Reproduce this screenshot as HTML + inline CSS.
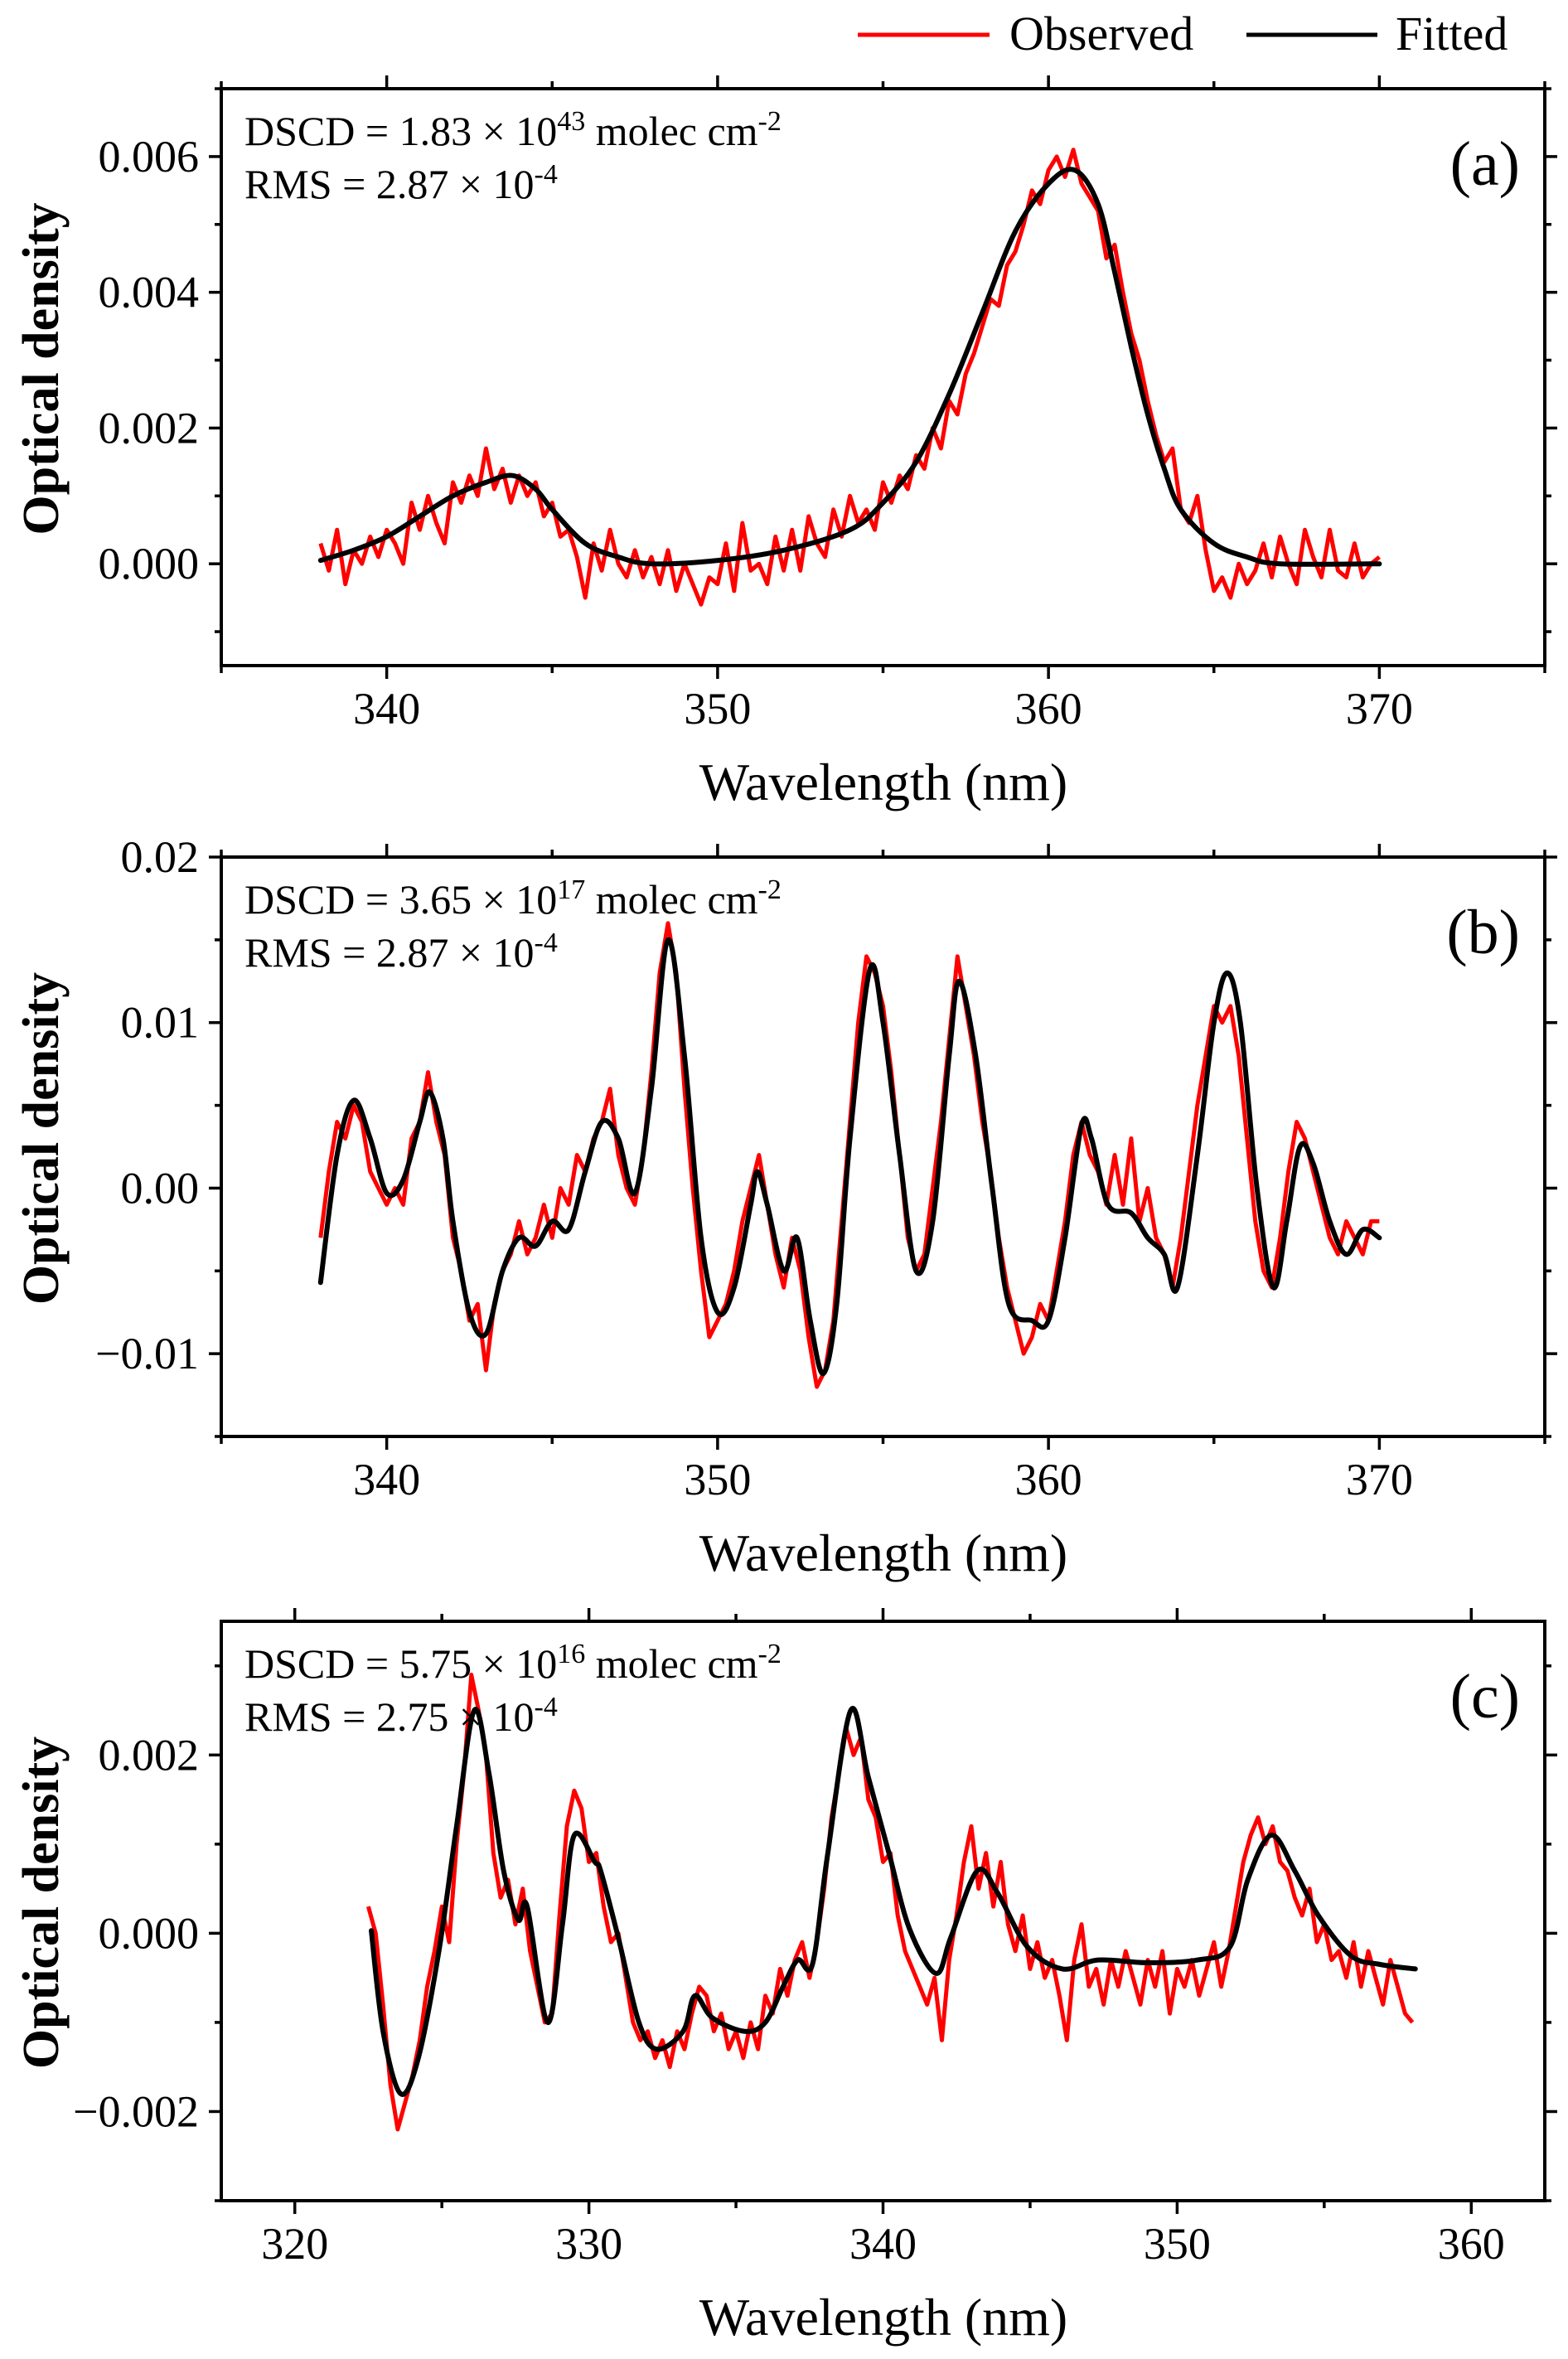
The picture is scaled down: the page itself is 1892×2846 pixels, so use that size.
<!DOCTYPE html>
<html><head><meta charset="utf-8">
<style>
html,body{margin:0;padding:0;background:#fff;}
svg{display:block;font-family:"Liberation Serif",serif;}
</style></head>
<body>
<svg id="fig" width="1892" height="2846" viewBox="0 0 1892 2846" xmlns="http://www.w3.org/2000/svg">
<rect width="1892" height="2846" fill="#fff"/>
<g>
  <line x1="1035" y1="42" x2="1194" y2="42" stroke="#ff0000" stroke-width="5"/>
  <text x="1218" y="60" font-size="58">Observed</text>
  <line x1="1504" y1="42" x2="1662" y2="42" stroke="#000" stroke-width="5"/>
  <text x="1684" y="60" font-size="58">Fitted</text>
</g>
</svg>
<script>
// ---------- Panel (a) data ----------
const aFitX = [338,339,340,341,342,343,343.8,344.5,345,346,347,348,350,352,354,355,356,357,358,359,360,360.8,361.5,362,362.5,363,363.5,364,365,366,367,370];
const aFitY = [0.00005,0.0002,0.0004,0.0007,0.0010,0.0012,0.0013,0.0011,0.0008,0.0003,0.0001,0.0,0.00005,0.0002,0.0005,0.0009,0.0015,0.0025,0.0037,0.0049,0.0056,0.0058,0.0053,0.0043,0.0032,0.0022,0.0014,0.0008,0.0003,0.0001,0.0,0.0];
const aObsStart = 338, aObsStep = 0.25, aObsUnit = 1e-4;
const aObs = [3,-1,5,-3,2,0,4,1,5,3,0,9,5,10,6,3,12,9,13,10,17,11,14,9,13,10,12,7,9,4,5,1,-5,3,-1,5,0,-2,2,-2,1,-3,2,-4,0,-3,-6,-2,-3,3,-4,6,-1,0,-3,4,-1,5,-1,7,3,1,8,4,10,6,8,5,12,9,13,11,16,14,20,17,24,22,28,31,35,39,38,44,46,50,55,53,58,60,57,61,56,54,52,45,47,40,34,30,24,19,15,17,8,6,10,2,-4,-2,-5,0,-3,-1,3,-2,4,0,-3,5,1,-2,5,-1,-2,3,-2,0,1];
const aYTicks = [0,0.002,0.004,0.006];
const aYLabels = ["0.000","0.002","0.004","0.006"];
const aXTicks = [340,350,360,370];
const aXLabels = ["340","350","360","370"];

// ---------- Panel (b) data ----------
const bFitX = [338,338.5,339,339.5,340,340.5,341,341.3,341.7,342,342.5,343,343.5,344,344.5,345,345.5,346,346.5,347,347.5,348,348.5,349,349.5,350,350.5,351,351.2,351.5,352,352.4,352.8,353.2,353.6,354,354.6,355,355.5,356,356.5,357,357.3,357.8,358.3,358.8,359.5,360,360.5,361,361.3,361.8,362.5,363,363.5,363.9,364.5,365,365.4,365.8,366.3,366.8,367.2,367.6,368,368.5,369,369.5,370];
const bFitY = [-0.0057,0.002,0.0053,0.003,-0.0003,0.0005,0.004,0.0058,0.003,-0.002,-0.0075,-0.0088,-0.005,-0.003,-0.0035,-0.002,-0.0025,0.001,0.004,0.003,-0.0003,0.006,0.015,0.008,-0.003,-0.0075,-0.006,-0.001,0.001,-0.001,-0.005,-0.003,-0.008,-0.0112,-0.007,0.003,0.0132,0.010,0.002,-0.005,-0.002,0.008,0.0125,0.008,0.0,-0.007,-0.008,-0.008,-0.003,0.0038,0.003,-0.001,-0.0015,-0.003,-0.004,-0.006,0.002,0.010,0.013,0.010,0.0,-0.006,-0.002,0.0025,0.0015,-0.002,-0.004,-0.0025,-0.003];
const bObsStart = 338, bObsStep = 0.25, bObsUnit = 1e-3;
const bObs = [-3,1,4,3,5,4,1,0,-1,0,-1,3,4,7,4,2,-3,-5,-8,-7,-11,-7,-5,-4,-2,-4,-3,-1,-3,0,-1,2,1,3,4,6,2,0,-1,2,7,13,16,13,6,0,-5,-9,-8,-7,-5,-2,0,2,-1,-4,-6,-3,-5,-9,-12,-11,-8,-2,4,10,14,13,11,7,2,-3,-5,-4,0,4,9,14,11,8,4,1,-3,-6,-8,-10,-9,-7,-8,-5,-2,2,4,2,1,-1,2,-1,3,-2,0,-3,-4,-6,-3,1,5,8,11,10,11,8,3,-2,-5,-6,-3,1,4,3,1,-1,-3,-4,-2,-3,-4,-2,-2];
const bYTicks = [-0.01,0,0.01,0.02];
const bYLabels = ["\u22120.01","0.00","0.01","0.02"];
const bXTicks = [340,350,360,370];
const bXLabels = ["340","350","360","370"];

// ---------- Panel (c) data ----------
const cFitX = [322.6,323.0,323.6,324.2,324.9,325.5,326.1,326.6,327.1,327.6,327.9,328.6,329.1,329.5,330.2,330.4,331.0,331.7,332.3,333.2,333.6,334.2,335.3,336.0,336.6,337.1,337.6,338.1,338.9,339.5,340.2,340.9,341.8,342.3,343.2,343.9,344.9,346.1,347.3,349.0,350.7,351.8,352.4,353.2,354.0,354.8,355.9,356.9,358.1];
const cFitY = [0.00003,-0.0011,-0.0018,-0.0014,-0.0002,0.0012,0.0025,0.0018,0.0007,0.00015,0.0003,-0.001,0.0001,0.0011,0.0008,0.0007,-0.00005,-0.001,-0.0013,-0.0011,-0.0007,-0.00095,-0.0011,-0.001,-0.0006,-0.0003,-0.00035,0.00085,0.0025,0.00175,0.0009,0.00005,-0.00045,-0.00005,0.0007,0.00045,-0.00015,-0.0004,-0.0003,-0.00033,-0.0003,-0.00015,0.0006,0.0011,0.0007,0.0002,-0.00025,-0.00035,-0.0004];
const cObsStart = 322.5, cObsStep = 0.25, cObsUnit = 1e-4;
const cObs = [3,0,-8,-17,-22,-19,-16,-12,-6,-2,3,-1,10,18,29,25,20,9,4,6,1,5,-2,-6,-10,-9,2,12,16,14,8,9,3,-1,0,-5,-10,-12,-11,-14,-12,-15,-11,-13,-9,-6,-7,-11,-9,-13,-11,-14,-10,-13,-7,-9,-4,-7,-3,-1,-5,-1,5,13,18,23,20,22,15,13,8,9,2,-2,-4,-6,-8,-5,-12,-3,2,8,12,5,9,3,8,1,-2,2,-4,-1,-5,-3,-7,-12,-3,1,-6,-4,-8,-3,-6,-2,-5,-8,-3,-6,-2,-9,-4,-6,-3,-7,-4,-1,-6,-2,3,8,11,13,10,12,8,7,4,2,5,-1,1,-3,-2,-5,-1,-6,-2,-5,-8,-3,-6,-9,-10];
const cYTicks = [-0.002,0,0.002];
const cYLabels = ["\u22120.002","0.000","0.002"];
const cXTicks = [320,330,340,350,360];
const cXLabels = ["320","330","340","350","360"];

const NS = "http://www.w3.org/2000/svg";
const svg = document.getElementById("fig");
function mk(tag, attrs, parent){
  const e = document.createElementNS(NS, tag);
  for (const k in attrs) e.setAttribute(k, attrs[k]);
  (parent||svg).appendChild(e);
  return e;
}
function smoothPath(P){
  let d = "M"+P[0][0].toFixed(1)+","+P[0][1].toFixed(1);
  for (let i=0;i<P.length-1;i++){
    const p0=P[Math.max(0,i-1)], p1=P[i], p2=P[i+1], p3=P[Math.min(P.length-1,i+2)];
    const c1x=p1[0]+(p2[0]-p0[0])/6, c1y=p1[1]+(p2[1]-p0[1])/6;
    const c2x=p2[0]-(p3[0]-p1[0])/6, c2y=p2[1]-(p3[1]-p1[1])/6;
    d += " C"+c1x.toFixed(1)+","+c1y.toFixed(1)+" "+c2x.toFixed(1)+","+c2y.toFixed(1)+" "+p2[0].toFixed(1)+","+p2[1].toFixed(1);
  }
  return d;
}

function panel(cfg){
  const g = mk("g", {});
  
  
  const L=267, R=1864, T=cfg.T, B=cfg.B;
  const sx = v => L + (v - cfg.x0)/(cfg.x1 - cfg.x0)*(R-L);
  const sy = v => B - (v - cfg.y0)/(cfg.y1 - cfg.y0)*(B-T);
  const clip = mk("clipPath", {id: cfg.name+"-clip"}, g);
  mk("rect", {x:L, y:T, width:R-L, height:B-T}, clip);

  const obsPts = cfg.obs.map((v,i)=> sx(cfg.obsStart + i*cfg.obsStep).toFixed(1)+","+sy(v*cfg.obsUnit).toFixed(1)).join(" ");
  const po = mk("polyline", {points: obsPts, fill:"none", stroke:"#ff0000", "stroke-width":5, "stroke-linejoin":"round", "clip-path":"url(#"+cfg.name+"-clip)"}, g);
  
  
  const fp = cfg.fitX.map((x,i)=>[sx(x), sy(cfg.fitY[i])]);
  const pf = mk("path", {d: smoothPath(fp), fill:"none", stroke:"#000", "stroke-width":6, "stroke-linejoin":"round", "stroke-linecap":"round", "clip-path":"url(#"+cfg.name+"-clip)"}, g);
  
  

  const fr = mk("rect", {x:L, y:T, width:R-L, height:B-T, fill:"none", stroke:"#000", "stroke-width":4}, g);
  
  

  for (let v = cfg.xMinorStart; v <= cfg.x1 + 1e-9; v += cfg.xMinor){
    const isMaj = cfg.xTicks.some(t=>Math.abs(t-v)<1e-6);
    const len = isMaj ? 16 : 9;
    const X = sx(v);
    mk("line", {x1:X, y1:B, x2:X, y2:B+len, stroke:"#000", "stroke-width":3.5}, g);
    mk("line", {x1:X, y1:T, x2:X, y2:T-len, stroke:"#000", "stroke-width":3.5}, g);
  }
  cfg.xTicks.forEach((v,i)=>{
    const t = mk("text", {x:sx(v), y:B+70, "font-size":54, "text-anchor":"middle"}, g);
    t.textContent = cfg.xLabels[i];
    
    
  });
  for (let k = Math.ceil(cfg.y0/cfg.yMinor - 1e-9); k*cfg.yMinor <= cfg.y1 + 1e-12; k++){
    const v = k*cfg.yMinor;
    const isMaj = cfg.yTicks.some(t=>Math.abs(t-v)<cfg.yMinor/100);
    const len = isMaj ? 15 : 8;
    const Y = sy(v);
    mk("line", {x1:L, y1:Y, x2:L-len, y2:Y, stroke:"#000", "stroke-width":3.5}, g);
    mk("line", {x1:R, y1:Y, x2:R+len, y2:Y, stroke:"#000", "stroke-width":3.5}, g);
  }
  cfg.yTicks.forEach((v,i)=>{
    const t = mk("text", {x:240, y:sy(v)+18, "font-size":54, "text-anchor":"end"}, g);
    t.textContent = cfg.yLabels[i];
    
    
  });
  const xt = mk("text", {x:1066, y:B+162, "font-size":64, "text-anchor":"middle"}, g);
  xt.textContent = "Wavelength (nm)";
  
  
  const yc = (T+B)/2 - 10;
  const yt = mk("text", {x:0, y:0, "font-size":62, "font-weight":"bold", "text-anchor":"middle", transform:"translate(70,"+yc+") rotate(-90)"}, g);
  yt.textContent = "Optical density";
  
  
  const a1 = mk("text", {x:295, y:T+68, "font-size":50}, g);
  a1.innerHTML = 'DSCD = '+cfg.dscd+' × 10<tspan dy="-18" font-size="34">'+cfg.exp+'</tspan><tspan dy="18"> molec cm</tspan><tspan dy="-18" font-size="34">-2</tspan>';
  
  
  const a2 = mk("text", {x:295, y:T+132, "font-size":50}, g);
  a2.innerHTML = 'RMS = '+cfg.rms+' × 10<tspan dy="-18" font-size="34">-4</tspan>';
  
  
  const pl = mk("text", {x:1834, y:T+116, "font-size":76, "text-anchor":"end"}, g);
  pl.textContent = cfg.label;
  
  
}

panel({name:"panel-a", T:107, B:803, x0:335, x1:375, y0:-0.0015, y1:0.007,
  xTicks:aXTicks, xLabels:aXLabels, xMinor:5, xMinorStart:335,
  yTicks:aYTicks, yLabels:aYLabels, yMinor:0.001,
  fitX:aFitX, fitY:aFitY, obs:aObs, obsStart:aObsStart, obsStep:aObsStep, obsUnit:aObsUnit,
  dscd:"1.83", exp:"43", rms:"2.87", label:"(a)"});
panel({name:"panel-b", T:1034, B:1733, x0:335, x1:375, y0:-0.015, y1:0.02,
  xTicks:bXTicks, xLabels:bXLabels, xMinor:5, xMinorStart:335,
  yTicks:bYTicks, yLabels:bYLabels, yMinor:0.005,
  fitX:bFitX, fitY:bFitY, obs:bObs, obsStart:bObsStart, obsStep:bObsStep, obsUnit:bObsUnit,
  dscd:"3.65", exp:"17", rms:"2.87", label:"(b)"});
panel({name:"panel-c", T:1956, B:2655, x0:317.5, x1:362.5, y0:-0.003, y1:0.0035,
  xTicks:cXTicks, xLabels:cXLabels, xMinor:5, xMinorStart:320,
  yTicks:cYTicks, yLabels:cYLabels, yMinor:0.001,
  fitX:cFitX, fitY:cFitY, obs:cObs, obsStart:cObsStart, obsStep:cObsStep, obsUnit:cObsUnit,
  dscd:"5.75", exp:"16", rms:"2.75", label:"(c)"});
</script>
</body></html>
